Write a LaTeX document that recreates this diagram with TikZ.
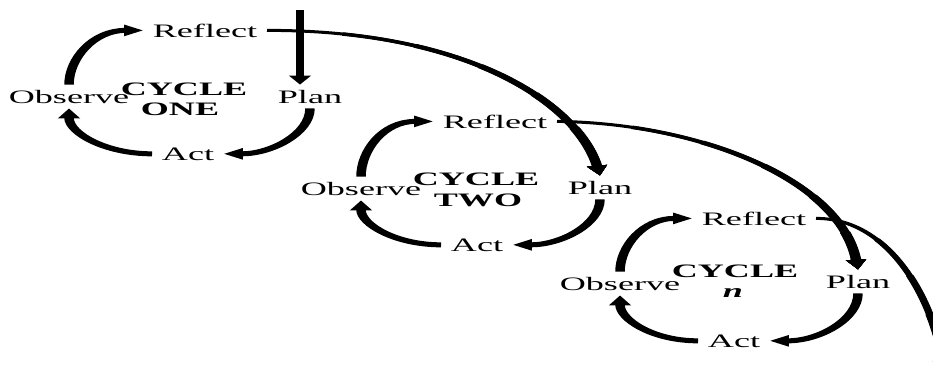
\documentclass[tikz,border=0pt]{standalone}
\usepackage{fontspec}
\setmainfont{Liberation Serif}
\usetikzlibrary{arrows.meta}
\tikzset{
  lbl/.style={anchor=base, inner xsep=5pt, inner ysep=5pt,
    font=\fontsize{19}{20}\selectfont},
  title/.style={anchor=base, inner sep=0pt,
    font=\fontsize{19}{20}\selectfont\bfseries},
  cyc/.style={line width=5pt, -{Triangle[length=10pt,width=11pt]}},
  entry/.style={line width=3.8pt, -{Triangle[length=9pt,width=11pt]}},
  link/.style={-{Triangle[length=10pt,width=10pt]}},
}
\begin{document}
\begin{tikzpicture}[x=1pt,y=-1pt]
\useasboundingbox (0,0) rectangle (933,365);
\clip (0,0) rectangle (933,365);
% everything is drawn in a narrow frame and widened as a whole
\begin{scope}[x=0.526316pt, transform canvas={xscale=1.9}]
  % cycle one
  \node[lbl] (ref1)  at (205,37)  {Reflect};
  \node[lbl] (obs1)  at (69,103)  {Observe};
  \node[lbl] (plan1) at (310,103) {Plan};
  \node[lbl] (act1)  at (188,160) {Act};
  \node[title] (cyc1) at (184,95)  {CYCLE};
  \node[title] (num1) at (180,115) {ONE};
  % cycle two
  \node[lbl] (ref2)  at (495,128) {Reflect};
  \node[lbl] (obs2)  at (361,195) {Observe};
  \node[lbl] (plan2) at (600,194) {Plan};
  \node[lbl] (act2)  at (477,251) {Act};
  \node[title] (cyc2) at (476,185) {CYCLE};
  \node[title] (num2) at (478,206) {TWO};
  % cycle n
  \node[lbl] (ref3)  at (754,225) {Reflect};
  \node[lbl] (obs3)  at (620,290) {Observe};
  \node[lbl] (plan3) at (858,288) {Plan};
  \node[lbl] (act3)  at (734,347) {Act};
  \node[title] (cyc3) at (735,277) {CYCLE};
  \node[title] (num3) at (733,297) {\itshape n};

  % the loop inside each cycle
  \foreach \k in {1,2,3} {
    \draw[cyc] (obs\k.north) to[out=90,in=180] (ref\k.west);
    \draw[cyc] (plan\k.south) to[out=-90,in=0] (act\k.east);
    \draw[cyc] (act\k.west) to[out=180,in=-90] (obs\k.south);
  }

  % entry into the first cycle
  \coordinate (start) at (300,10);
  \draw[entry] (start) -- (start |- plan1.north);

  % tapered links from one cycle to the next
  \coordinate (next) at (945,371);
  \foreach \w/\o in {3/0,3.5/40,4/80,4.5/120,5/160,5.5/200,6/240} {
    \draw[link, line width=\w pt, dash pattern=on 0pt off \o pt on 3000pt]
      (ref1.east) .. controls (470,30) and (578,105) .. (plan2.north);
    \draw[link, line width=\w pt, dash pattern=on 0pt off \o pt on 3000pt]
      (ref2.east) .. controls (700,123) and (840,180) .. (plan3.north);
    \draw[link, line width=\w pt, dash pattern=on 0pt off \o pt on 3000pt]
      (ref3.east) .. controls (885,218) and (930,290) .. (next);
  }
\end{scope}
\end{tikzpicture}
\end{document}
